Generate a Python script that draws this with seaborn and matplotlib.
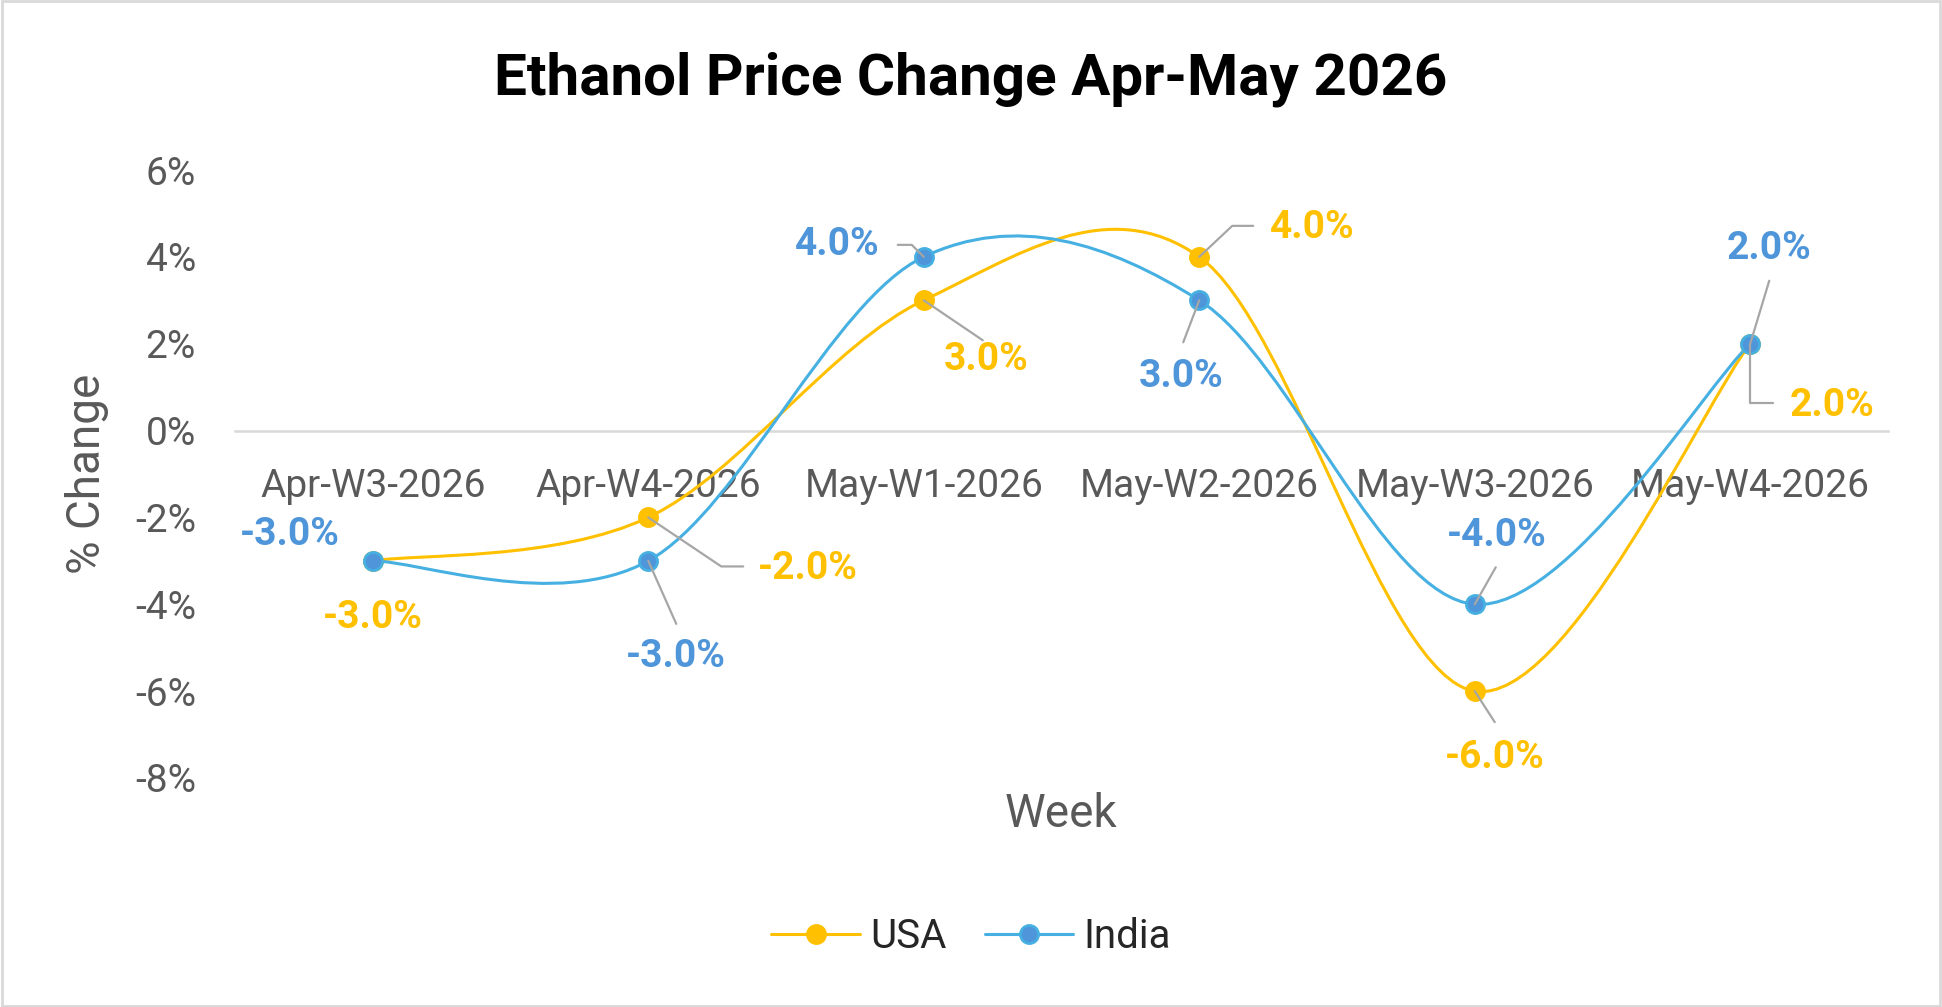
import numpy as np
import pandas as pd
import matplotlib
matplotlib.use("Agg")
from matplotlib import pyplot as plt
from matplotlib import transforms
from matplotlib.path import Path
from matplotlib.patches import PathPatch, Rectangle
from matplotlib.lines import Line2D
import seaborn as sns

weeks = ["Apr-W3-2026", "Apr-W4-2026", "May-W1-2026", "May-W2-2026", "May-W3-2026", "May-W4-2026"]
usa = [-3.0, -2.0, 3.0, 4.0, -6.0, 2.0]
india = [-3.0, -3.0, 4.0, 3.0, -4.0, 2.0]
y_ticks = [-8, -6, -4, -2, 0, 2, 4, 6]

# label placement, pixel offsets from each point (x right, y down)
usa_label_off = [(0, 57), (160, 51), (62, 59), (113, -29), (20, 66), (82, 62)]
usa_leaders = [None, [(0, 0), (73, 49), (95, 49)], [(0, 0), (59, 40)],
               [(0, 0), (33, -31), (54, -31)], [(0, 0), (20, 31)],
               [(0, 0), (0, 59), (23, 59)]]
india_label_off = [(-83, -26), (28, 96), (-86, -12), (-18, 76), (22, -69), (19, -95)]
india_leaders = [None, [(0, 0), (28, 63)], [(0, 0), (-12, -12), (-26, -12)],
                 [(0, 0), (-16, 42)], [(0, 0), (21, -37)], [(0, 0), (19, -63)]]

USA_COL = "#FFC000"
IND_LINE = "#45B0E1"
IND_FACE = "#4E95D9"
GRAY = "#595959"

sns.set_style("white")
plt.rcParams["font.family"] = ["Roboto", "DejaVu Sans"]

fig = plt.figure(figsize=(19.42, 10.07), dpi=100)
ax = fig.add_axes([235 / 1942, 1 - 778 / 1007, 1653 / 1942, 608 / 1007])

df = pd.DataFrame({"week": np.arange(len(weeks)), "USA": usa, "India": india})


def smooth_path(ys):
    # excel style bezier smoothing through the points
    n = len(ys)
    pts = [(float(i), y) for i, y in enumerate(ys)]
    verts = [pts[0]]
    codes = [Path.MOVETO]
    for i in range(n - 1):
        p0, p1 = pts[i], pts[i + 1]
        pm = pts[i - 1] if i > 0 else p0
        p2 = pts[i + 2] if i + 2 < n else p1
        c1 = (p0[0] + (p1[0] - pm[0]) / 6, p0[1] + (p1[1] - pm[1]) / 6)
        c2 = (p1[0] - (p2[0] - p0[0]) / 6, p1[1] - (p2[1] - p0[1]) / 6)
        verts += [c1, c2, p1]
        codes += [Path.CURVE4] * 3
    return Path(verts, codes)


for col, lc, fc, ec in [("USA", USA_COL, USA_COL, USA_COL), ("India", IND_LINE, IND_FACE, IND_LINE)]:
    ax.add_patch(PathPatch(smooth_path(df[col].tolist()), fill=False, edgecolor=lc, lw=2.2, zorder=2))
    sns.scatterplot(data=df, x="week", y=col, ax=ax, s=170, color=fc, edgecolor=ec,
                    linewidth=2, zorder=3)

ax.set_xlim(-0.5, len(weeks) - 0.5)
ax.set_ylim(-8, 6)
ax.set_yticks(y_ticks)
ax.set_yticklabels([f"{t}%" for t in y_ticks])
ax.set_xticks(range(len(weeks)))
ax.set_xticklabels(weeks)
ax.set_xlabel("")
ax.set_ylabel("")
for s in ["top", "right", "left"]:
    ax.spines[s].set_visible(False)
ax.spines["bottom"].set_position(("data", 0))
ax.spines["bottom"].set_color("#D9D9D9")
ax.spines["bottom"].set_linewidth(1.8)
ax.spines["bottom"].set_zorder(1)
ax.tick_params(axis="y", length=0, pad=28, labelsize=28, labelcolor=GRAY)
ax.tick_params(axis="x", length=0, pad=27, labelsize=28, labelcolor=GRAY)
ax.patch.set_alpha(0)


def point_trans(i, v):
    return transforms.IdentityTransform() + transforms.ScaledTranslation(i, v, ax.transData)


def add_labels(vals, offs, leaders, color):
    for i, v in enumerate(vals):
        tr = point_trans(i, v)
        if leaders[i] is not None:
            lx = [p[0] for p in leaders[i]]
            ly = [-p[1] for p in leaders[i]]
            ax.add_line(Line2D(lx, ly, transform=tr, color="#A6A6A6", lw=1.6, zorder=4))
        dx, dy = offs[i]
        ax.text(dx, -dy, f"{v:.1f}%", transform=tr, ha="center", va="center",
                fontsize=28, fontweight="bold", color=color, zorder=5)


add_labels(usa, usa_label_off, usa_leaders, USA_COL)
add_labels(india, india_label_off, india_leaders, IND_FACE)

fig.text(0.5, 1 - 79 / 1007, "Ethanol Price Change Apr-May 2026", ha="center", va="center",
         fontsize=42, fontweight="bold", color="black")
fig.text(87 / 1942, 1 - 474 / 1007, "% Change", rotation=90, ha="center", va="center",
         fontsize=33, color=GRAY)
fig.text(1061 / 1942, 1 - 814 / 1007, "Week", ha="center", va="center", fontsize=33, color=GRAY)

handles = [
    Line2D([], [], color=USA_COL, lw=2.2, marker="o", markersize=13, markerfacecolor=USA_COL,
           markeredgecolor=USA_COL, markeredgewidth=2),
    Line2D([], [], color=IND_LINE, lw=2.2, marker="o", markersize=13, markerfacecolor=IND_FACE,
           markeredgecolor=IND_LINE, markeredgewidth=2),
]
fig.legend(handles, ["USA", "India"], loc="center", bbox_to_anchor=(0.5, 1 - 937 / 1007), ncol=2,
           frameon=False, fontsize=29, handlelength=2.2, handletextpad=0.25, columnspacing=0.95)

fig.add_artist(Rectangle((0.001, 0.001), 0.998, 0.998, transform=fig.transFigure, fill=False,
                         edgecolor="#D9D9D9", lw=2))

fig.savefig("out.png", dpi=100)
